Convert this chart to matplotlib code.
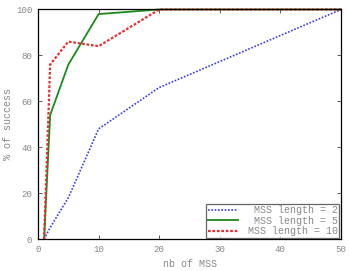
import matplotlib
matplotlib.use('Agg')
import matplotlib.pyplot as plt

# Data
nb_mss = [1, 2, 5, 10, 20, 50]
len2 = [0, 5, 18, 48, 66, 100]
len5 = [0, 54, 76, 98, 100, 100]
len10 = [0, 76, 86, 84, 100, 100]
# monospace font, leading space makes the labels right aligned
labels = [' MSS length = 2', ' MSS length = 5', 'MSS length = 10']

plt.rcParams['font.family'] = ['Liberation Mono', 'DejaVu Sans Mono']
plt.rcParams['font.size'] = 6.6

fig = plt.figure(figsize=(3.49, 2.71), dpi=100)
ax = fig.add_axes([0.109, 0.118, 0.868, 0.847])

ax.plot(nb_mss, len2, color='#3a3ae6', ls=(0, (1, 1)), lw=1.2,
        label=labels[0], clip_on=False)
ax.plot(nb_mss, len5, color='#1a8a1a', ls='-', lw=1.3,
        label=labels[1], clip_on=False)
ax.plot(nb_mss, len10, color='#e63030', ls=(0, (1.2, 0.8)), lw=1.6,
        label=labels[2], clip_on=False)

ax.set_xlim(0, 50)
ax.set_ylim(0, 100)
ax.set_xticks([0, 10, 20, 30, 40, 50])
ax.set_yticks([0, 20, 40, 60, 80, 100])
ax.tick_params(direction='in', top=True, right=True, length=3, pad=4,
               labelcolor='#888888', color='#404040', width=0.6)
for s in ax.spines.values():
    s.set_linewidth(0.9)

ax.set_xlabel('nb of MSS', color='#888888', fontsize=7.2, labelpad=4)
ax.set_ylabel('% of success', color='#888888', fontsize=7.2, labelpad=2.5)

leg = ax.legend(loc='lower right', fancybox=False, edgecolor='#404040',
                fontsize=7.2, borderpad=0.15, handlelength=3.0,
                handletextpad=1.0, labelspacing=0.05, borderaxespad=0.15)
leg.get_frame().set_linewidth(0.9)
for t in leg.get_texts():
    t.set_color('#888888')

fig.savefig('out.png', dpi=100)
